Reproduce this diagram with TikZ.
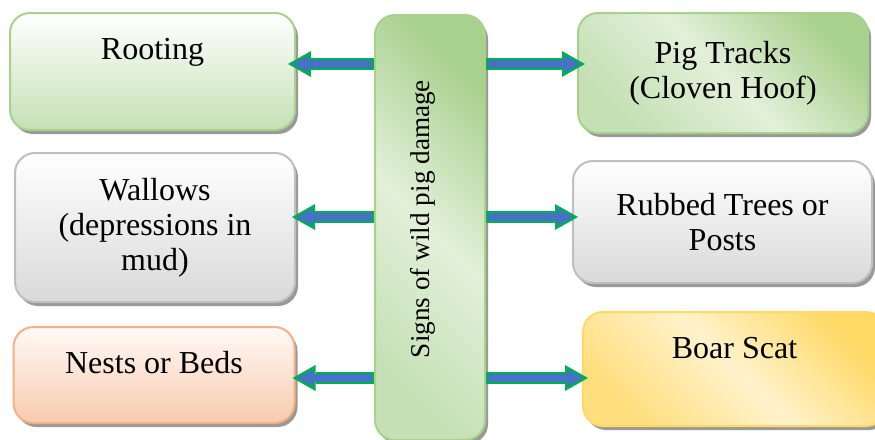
\documentclass[tikz,border=0pt]{standalone}
\usepackage{fontspec}
\setmainfont{Liberation Serif}
\usetikzlibrary{arrows.meta,shadows}

\definecolor{greenline}{HTML}{A9D18E}
\definecolor{greenlight}{HTML}{E2F0D9}
\definecolor{greenmid}{HTML}{C5E0B4}
\definecolor{grayline}{HTML}{BFBFBF}
\definecolor{graymid}{HTML}{D9D9D9}
\definecolor{orangeline}{HTML}{F4B183}
\definecolor{orangemid}{HTML}{F8CBAD}
\definecolor{orangelight}{HTML}{FFF9F6}
\definecolor{yellowline}{HTML}{FFD966}
\definecolor{yellowlight}{HTML}{FFF2CC}
\definecolor{arrowblue}{HTML}{4472C4}
\definecolor{arrowgreen}{HTML}{00B050}

\tikzset{
  signbox/.style={rounded corners=20pt, line width=2pt, inner sep=0pt, align=center,
    font=\fontsize{32}{35}\selectfont,
    drop shadow={shadow xshift=3pt, shadow yshift=-4pt, fill=black!40, opacity=1}},
  greenbox/.style={signbox, draw=greenline, top color=white, bottom color=greenmid},
  greendiag/.style={signbox, draw=greenline, top color=greenline, bottom color=greenmid,
    middle color=greenlight, shading angle=-45},
  graybox/.style={signbox, draw=grayline, top color=white, bottom color=graymid},
  orangebox/.style={signbox, draw=orangeline, top color=orangelight, bottom color=orangemid},
  yellowbox/.style={signbox, draw=yellowline, top color=yellowline, bottom color=yellowline!85,
    middle color=yellowlight, shading angle=-45},
  signtext/.style={anchor=base, inner sep=0pt, font=\fontsize{32}{35}\selectfont},
  arrowout/.style={draw=arrowgreen, line width=12pt,
    -{Triangle[length=23pt,width=26pt,line width=0pt]}},
  arrowin/.style={draw=arrowblue, line width=8pt,
    -{Triangle[length=16.5pt,width=17pt,line width=0pt]}}
}

\begin{document}
\begin{tikzpicture}[x=1pt,y=-1pt]
\clip (0,0) rectangle (875,439);

% centre column
\node[greendiag, minimum width=110pt, minimum height=425pt] (hub) at (430,227.5) {};
\node[signtext, anchor=center, rotate=90, font=\fontsize{27.2}{30}\selectfont] (hubtext) at (423,219) {Signs of wild pig damage};

% left column
\node[greenbox, minimum width=285pt, minimum height=117pt] (rooting) at (152.5,71.5) {};
\node[signtext] (rootingtext) at (152.5,59) {Rooting};

\node[graybox, minimum width=280pt, minimum height=149pt] (wallows) at (155,227.5) {Wallows\\(depressions in\\mud)};

\node[orangebox, minimum width=281pt, minimum height=96pt] (nests) at (154,375) {};
\node[signtext] (neststext) at (154,373) {Nests or Beds};

% right column
\node[greendiag, minimum width=290pt, minimum height=120pt] (pigtracks) at (723,73) {Pig Tracks\\(Cloven Hoof)};

\node[graybox, minimum width=299pt, minimum height=122pt] (rubbed) at (722.5,222) {Rubbed Trees or\\Posts};

\node[yellowbox, minimum width=303pt, minimum height=114pt] (boar) at (734.5,369) {};
\node[signtext] (boartext) at (734.5,358) {Boar Scat};

% arrows
\coordinate (r1) at (0,64);
\coordinate (r2) at (0,217);
\coordinate (r3) at (0,378);

\foreach \row/\hubside/\tgt/\cut in {r1/west/rooting.east/-8pt, r2/west/wallows.east/-4pt,
    r3/west/nests.east/-3pt, r1/east/pigtracks.west/-8pt, r2/east/rubbed.west/-6pt,
    r3/east/boar.west/-6pt}
{
  \draw[arrowout, shorten >=\cut] (hub.\hubside |- \row) -- (\tgt |- \row);
  \draw[arrowin, shorten <=2pt, shorten >=\cut+4.3pt] (hub.\hubside |- \row) -- (\tgt |- \row);
}
\end{tikzpicture}
\end{document}
